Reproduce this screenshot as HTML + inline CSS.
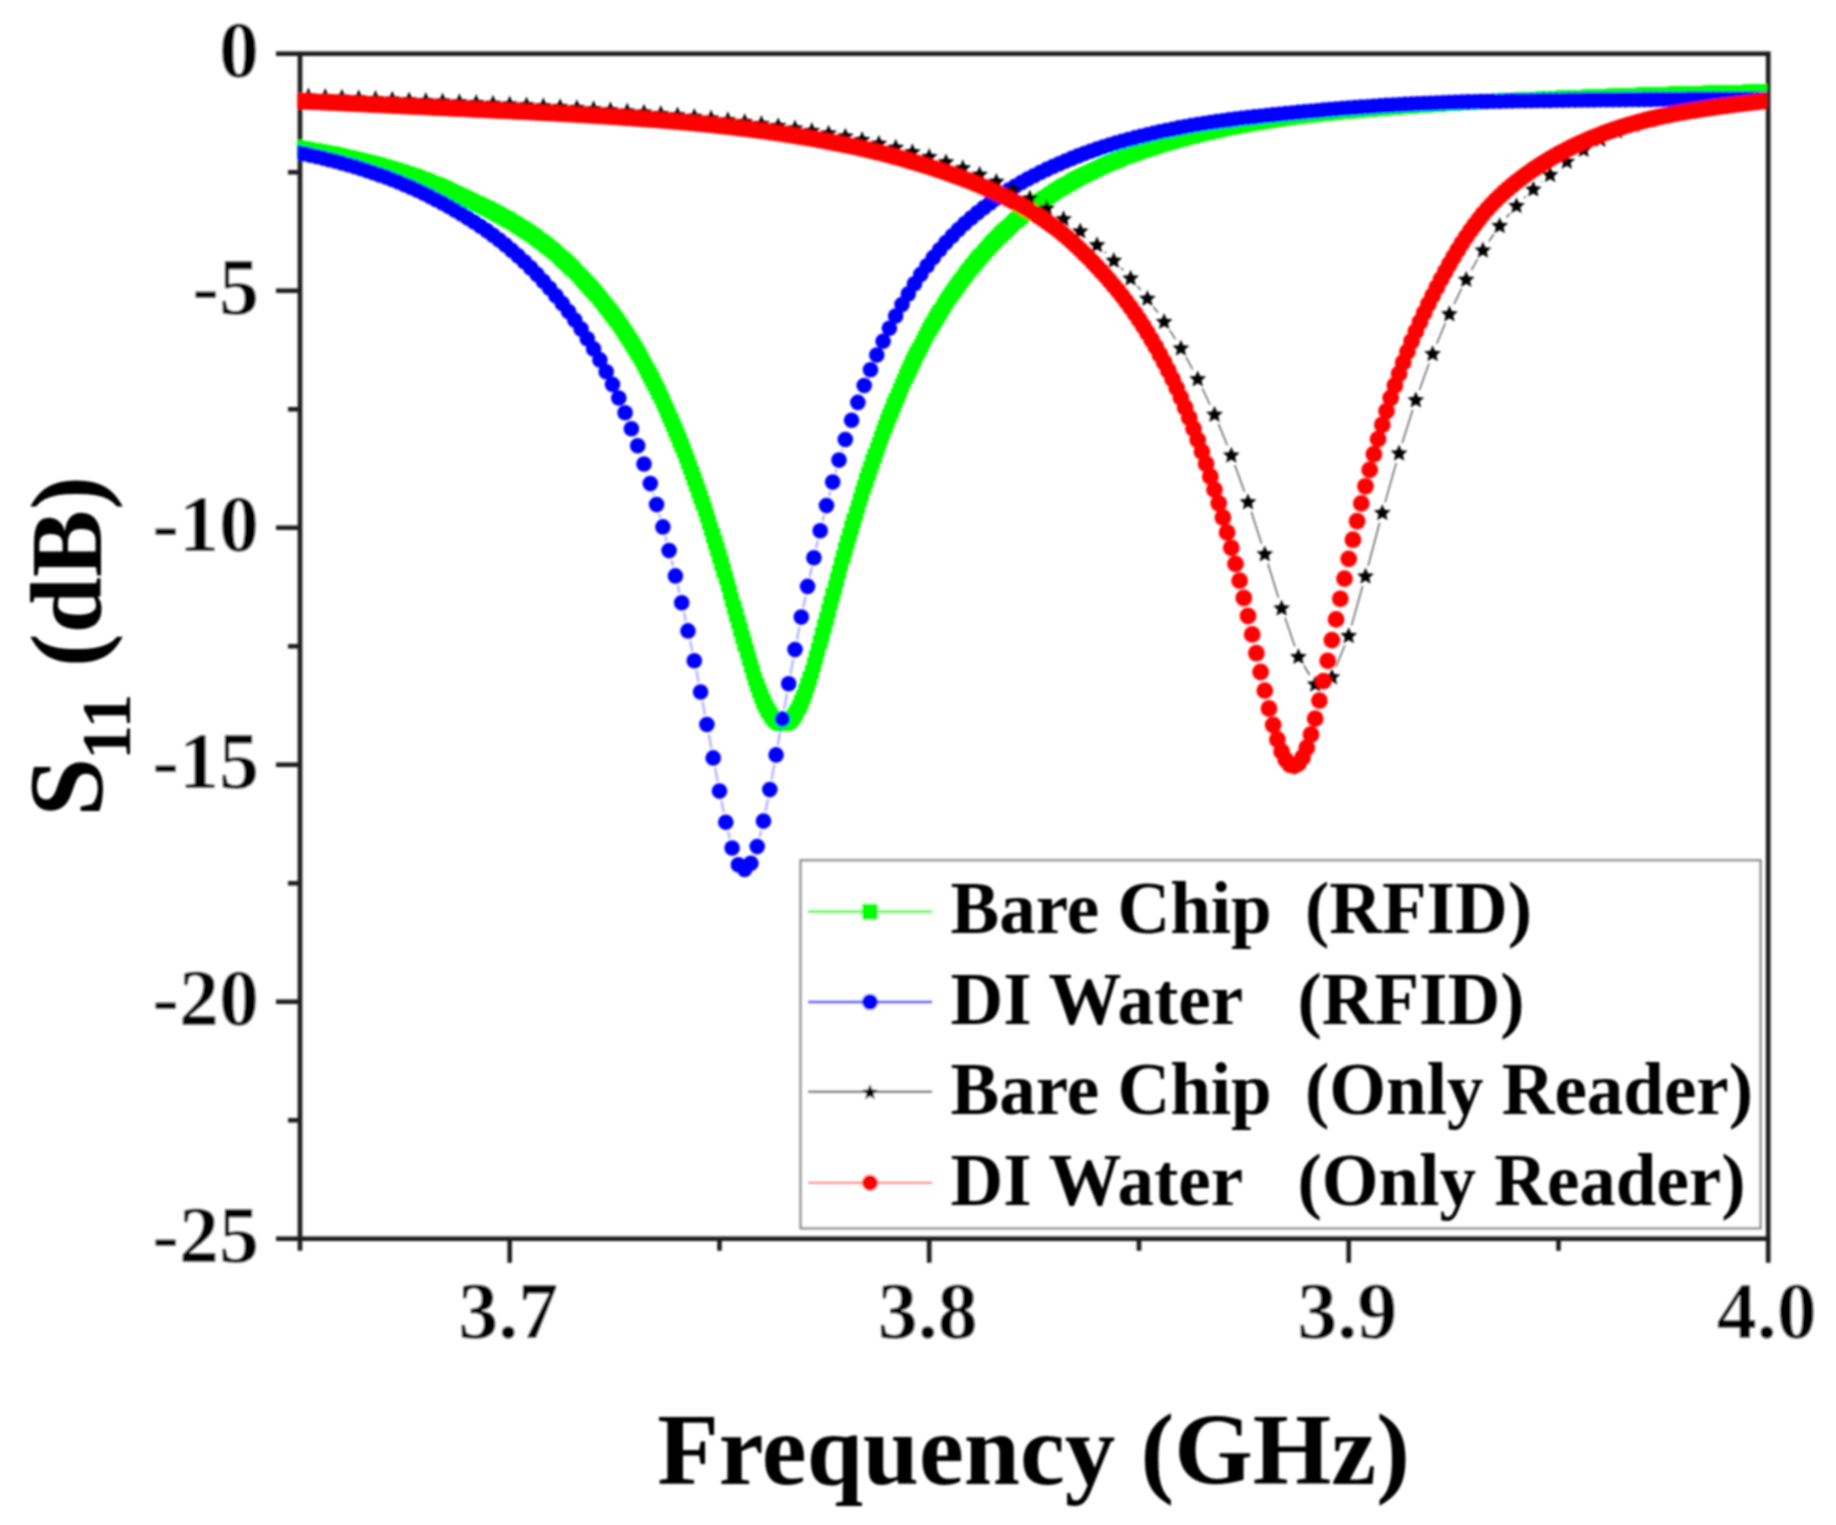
<!DOCTYPE html>
<html lang="en"><head><meta charset="utf-8"><title>S11 vs Frequency</title>
<style>
html,body{margin:0;padding:0;background:#fff;}
svg{display:block;}
text{font-family:"Liberation Serif", "Times New Roman", Times, serif;font-weight:bold;fill:#000;}
.tk{font-size:80px;stroke:#fff;stroke-width:0.5px;stroke-linejoin:round;}
.ttl{font-size:101px;}
  .lg{font-size:73px;white-space:pre;}
</style></head>
<body>
<svg width="1836" height="1525" viewBox="0 0 1836 1525">
<defs>
<clipPath id="pc"><rect x="297.7" y="52" width="1468.8" height="1189"/></clipPath>
<marker id="mg" markerUnits="userSpaceOnUse" markerWidth="14.6" markerHeight="14.6" refX="7.30" refY="7.30"><rect width="14.6" height="14.6" fill="#00ff00"/></marker>
<marker id="mb" markerUnits="userSpaceOnUse" markerWidth="17.6" markerHeight="17.6" refX="8.80" refY="8.80"><circle cx="8.80" cy="8.80" r="7.80" fill="#0000ff"/></marker>
<marker id="mr" markerUnits="userSpaceOnUse" markerWidth="18.8" markerHeight="18.8" refX="9.40" refY="9.40"><circle cx="9.40" cy="9.40" r="8.40" fill="#ff0000"/></marker>
<marker id="mk" markerUnits="userSpaceOnUse" markerWidth="24" markerHeight="24" refX="12" refY="12"><polygon transform="translate(12,12.6)" points="0.00,-8.90 2.35,-3.24 8.46,-2.75 3.81,1.24 5.23,7.20 0.00,4.00 -5.23,7.20 -3.81,1.24 -8.46,-2.75 -2.35,-3.24" fill="#000"/></marker>
<filter id="soft" x="-2%" y="-2%" width="104%" height="104%"><feGaussianBlur stdDeviation="1.0"/></filter>
</defs>
<rect width="1836" height="1525" fill="#fff"/>
<g filter="url(#soft)">
<g stroke="#1c1c1c" stroke-width="4.6" fill="none" stroke-linecap="butt">
<path d="M276.0 53.8H1770.3"/>
<path d="M276.0 1238.8H1770.3"/>
<path d="M300.0 51.7V1250.8"/>
<path d="M1768.2 51.7V1262.8"/>
<path d="M288.0 172.3H300.0M276.0 290.8H300.0M288.0 409.3H300.0M276.0 527.8H300.0M288.0 646.3H300.0M276.0 764.8H300.0M288.0 883.3H300.0M276.0 1001.8H300.0M288.0 1120.3H300.0"/>
<path d="M509.7 1238.8V1262.8M719.5 1238.8V1250.8M929.2 1238.8V1262.8M1139.0 1238.8V1250.8M1348.7 1238.8V1262.8M1558.5 1238.8V1250.8"/>
</g>
<g clip-path="url(#pc)" fill="none">
<polyline points="258.1,142.1 260.1,142.4 262.2,142.7 264.3,142.9 266.4,143.2 268.5,143.5 270.6,143.8 272.7,144.0 274.8,144.3 276.9,144.6 279.0,144.9 281.1,145.2 283.2,145.5 285.3,145.8 287.4,146.1 289.5,146.4 291.6,146.8 293.7,147.1 295.8,147.4 297.9,147.7 300.0,148.1 302.1,148.4 304.2,148.7 306.3,149.1 308.4,149.4 310.5,149.8 312.6,150.2 314.7,150.5 316.8,150.9 318.9,151.3 321.0,151.7 323.1,152.1 325.2,152.5 327.3,152.9 329.4,153.3 331.5,153.7 333.6,154.1 335.7,154.6 337.8,155.0 339.9,155.4 341.9,155.9 344.0,156.4 346.1,156.8 348.2,157.3 350.3,157.8 352.4,158.3 354.5,158.8 356.6,159.3 358.7,159.8 360.8,160.3 362.9,160.8 365.0,161.3 367.1,161.9 369.2,162.4 371.3,163.0 373.4,163.5 375.5,164.1 377.6,164.7 379.7,165.3 381.8,165.8 383.9,166.4 386.0,167.0 388.1,167.7 390.2,168.3 392.3,168.9 394.4,169.6 396.5,170.2 398.6,170.9 400.7,171.5 402.8,172.2 404.9,172.9 407.0,173.6 409.1,174.3 411.2,175.0 413.3,175.7 415.4,176.5 417.5,177.2 419.6,178.0 421.7,178.8 423.7,179.5 425.8,180.3 427.9,181.2 430.0,182.0 432.1,182.8 434.2,183.7 436.3,184.6 438.4,185.4 440.5,186.3 442.6,187.3 444.7,188.2 446.8,189.1 448.9,190.1 451.0,191.0 453.1,192.0 455.2,192.9 457.3,193.9 459.4,194.9 461.5,195.9 463.6,196.9 465.7,197.9 467.8,198.9 469.9,199.9 472.0,200.9 474.1,202.0 476.2,203.0 478.3,204.0 480.4,205.1 482.5,206.1 484.6,207.1 486.7,208.2 488.8,209.3 490.9,210.3 493.0,211.4 495.1,212.5 497.2,213.6 499.3,214.7 501.4,215.9 503.5,217.0 505.5,218.2 507.6,219.4 509.7,220.6 511.8,221.8 513.9,223.0 516.0,224.3 518.1,225.6 520.2,226.9 522.3,228.2 524.4,229.6 526.5,230.9 528.6,232.3 530.7,233.8 532.8,235.2 534.9,236.7 537.0,238.2 539.1,239.8 541.2,241.3 543.3,242.9 545.4,244.6 547.5,246.2 549.6,247.9 551.7,249.7 553.8,251.4 555.9,253.2 558.0,255.0 560.1,256.9 562.2,258.8 564.3,260.7 566.4,262.6 568.5,264.6 570.6,266.7 572.7,268.7 574.8,270.8 576.9,272.9 579.0,275.1 581.1,277.3 583.2,279.5 585.3,281.8 587.3,284.1 589.4,286.4 591.5,288.7 593.6,291.1 595.7,293.6 597.8,296.0 599.9,298.5 602.0,301.1 604.1,303.7 606.2,306.3 608.3,309.0 610.4,311.7 612.5,314.5 614.6,317.3 616.7,320.2 618.8,323.2 620.9,326.2 623.0,329.3 625.1,332.4 627.2,335.6 629.3,338.9 631.4,342.2 633.5,345.6 635.6,349.1 637.7,352.7 639.8,356.3 641.9,360.0 644.0,363.8 646.1,367.7 648.2,371.6 650.3,375.6 652.4,379.7 654.5,383.9 656.6,388.1 658.7,392.5 660.8,396.9 662.9,401.3 665.0,405.9 667.1,410.5 669.1,415.3 671.2,420.1 673.3,425.0 675.4,430.0 677.5,435.0 679.6,440.2 681.7,445.4 683.8,450.8 685.9,456.2 688.0,461.7 690.1,467.3 692.2,473.1 694.3,478.9 696.4,484.8 698.5,490.8 700.6,496.9 702.7,503.1 704.8,509.4 706.9,515.8 709.0,522.3 711.1,528.9 713.2,535.6 715.3,542.4 717.4,549.3 719.5,556.3 721.6,563.4 723.7,570.5 725.8,577.8 727.9,585.0 730.0,592.4 732.1,599.8 734.2,607.2 736.3,614.7 738.4,622.1 740.5,629.6 742.6,637.0 744.7,644.3 746.8,651.6 748.8,658.7 750.9,665.6 753.0,672.3 755.1,678.8 757.2,685.0 759.3,690.9 761.4,696.4 763.5,701.4 765.6,706.1 767.7,710.2 769.8,713.7 771.9,716.8 774.0,719.2 776.1,721.1 778.2,722.5 780.3,723.3 782.4,723.7 784.5,723.5 786.6,722.9 788.7,721.7 790.8,719.9 792.9,717.6 795.0,714.6 797.1,711.1 799.2,706.9 801.3,702.2 803.4,697.0 805.5,691.3 807.6,685.1 809.7,678.6 811.8,671.8 813.9,664.7 816.0,657.4 818.1,649.9 820.2,642.2 822.3,634.5 824.4,626.6 826.5,618.8 828.6,610.9 830.6,603.0 832.7,595.2 834.8,587.4 836.9,579.7 839.0,572.0 841.1,564.4 843.2,556.9 845.3,549.4 847.4,542.1 849.5,534.8 851.6,527.7 853.7,520.6 855.8,513.7 857.9,506.8 860.0,500.1 862.1,493.4 864.2,486.9 866.3,480.4 868.4,474.1 870.5,467.9 872.6,461.7 874.7,455.7 876.8,449.7 878.9,443.9 881.0,438.2 883.1,432.5 885.2,426.9 887.3,421.5 889.4,416.1 891.5,410.8 893.6,405.6 895.7,400.5 897.8,395.5 899.9,390.5 902.0,385.7 904.1,380.9 906.2,376.3 908.3,371.7 910.4,367.2 912.4,362.7 914.5,358.4 916.6,354.1 918.7,349.9 920.8,345.8 922.9,341.8 925.0,337.8 927.1,333.9 929.2,330.1 931.3,326.4 933.4,322.8 935.5,319.2 937.6,315.7 939.7,312.2 941.8,308.8 943.9,305.5 946.0,302.2 948.1,299.0 950.2,295.9 952.3,292.8 954.4,289.8 956.5,286.8 958.6,283.9 960.7,281.0 962.8,278.2 964.9,275.4 967.0,272.7 969.1,270.0 971.2,267.4 973.3,264.8 975.4,262.2 977.5,259.7 979.6,257.2 981.7,254.8 983.8,252.4 985.9,250.1 988.0,247.8 990.1,245.5 992.2,243.3 994.2,241.1 996.3,238.9 998.4,236.8 1000.5,234.7 1002.6,232.7 1004.7,230.7 1006.8,228.7 1008.9,226.8 1011.0,224.9 1013.1,223.0 1015.2,221.1 1017.3,219.3 1019.4,217.5 1021.5,215.8 1023.6,214.1 1025.7,212.4 1027.8,210.7 1029.9,209.1 1032.0,207.5 1034.1,205.9 1036.2,204.4 1038.3,202.8 1040.4,201.3 1042.5,199.9 1044.6,198.4 1046.7,197.0 1048.8,195.6 1050.9,194.2 1053.0,192.9 1055.1,191.5 1057.2,190.2 1059.3,188.9 1061.4,187.6 1063.5,186.4 1065.6,185.2 1067.7,184.0 1069.8,182.8 1071.9,181.6 1074.0,180.4 1076.0,179.3 1078.1,178.2 1080.2,177.1 1082.3,176.0 1084.4,174.9 1086.5,173.8 1088.6,172.8 1090.7,171.8 1092.8,170.8 1094.9,169.8 1097.0,168.8 1099.1,167.8 1101.2,166.9 1103.3,165.9 1105.4,165.0 1107.5,164.1 1109.6,163.2 1111.7,162.3 1113.8,161.4 1115.9,160.6 1118.0,159.7 1120.1,158.9 1122.2,158.0 1124.3,157.2 1126.4,156.4 1128.5,155.6 1130.6,154.8 1132.7,154.1 1134.8,153.3 1136.9,152.6 1139.0,151.8 1141.1,151.1 1143.2,150.4 1145.3,149.7 1147.4,149.0 1149.5,148.3 1151.6,147.6 1153.7,146.9 1155.8,146.3 1157.8,145.6 1159.9,145.0 1162.0,144.3 1164.1,143.7 1166.2,143.1 1168.3,142.5 1170.4,141.9 1172.5,141.3 1174.6,140.7 1176.7,140.1 1178.8,139.5 1180.9,139.0 1183.0,138.4 1185.1,137.9 1187.2,137.3 1189.3,136.8 1191.4,136.3 1193.5,135.7 1195.6,135.2 1197.7,134.7 1199.8,134.2 1201.9,133.7 1204.0,133.2 1206.1,132.7 1208.2,132.3 1210.3,131.8 1212.4,131.3 1214.5,130.8 1216.6,130.4 1218.7,129.9 1220.8,129.5 1222.9,129.1 1225.0,128.6 1227.1,128.2 1229.2,127.8 1231.3,127.3 1233.4,126.9 1235.5,126.5 1237.6,126.1 1239.6,125.7 1241.7,125.3 1243.8,124.9 1245.9,124.5 1248.0,124.2 1250.1,123.8 1252.2,123.4 1254.3,123.1 1256.4,122.7 1258.5,122.3 1260.6,122.0 1262.7,121.6 1264.8,121.3 1266.9,121.0 1269.0,120.6 1271.1,120.3 1273.2,120.0 1275.3,119.7 1277.4,119.4 1279.5,119.1 1281.6,118.8 1283.7,118.5 1285.8,118.2 1287.9,117.9 1290.0,117.6 1292.1,117.3 1294.2,117.1 1296.3,116.8 1298.4,116.5 1300.5,116.3 1302.6,116.0 1304.7,115.8 1306.8,115.5 1308.9,115.3 1311.0,115.0 1313.1,114.8 1315.2,114.6 1317.3,114.3 1319.4,114.1 1321.4,113.9 1323.5,113.7 1325.6,113.5 1327.7,113.3 1329.8,113.0 1331.9,112.8 1334.0,112.6 1336.1,112.4 1338.2,112.2 1340.3,112.0 1342.4,111.8 1344.5,111.7 1346.6,111.5 1348.7,111.3 1350.8,111.1 1352.9,110.9 1355.0,110.7 1357.1,110.6 1359.2,110.4 1361.3,110.2 1363.4,110.0 1365.5,109.9 1367.6,109.7 1369.7,109.5 1371.8,109.4 1373.9,109.2 1376.0,109.0 1378.1,108.8 1380.2,108.7 1382.3,108.5 1384.4,108.4 1386.5,108.2 1388.6,108.0 1390.7,107.9 1392.8,107.7 1394.9,107.6 1397.0,107.4 1399.1,107.2 1401.2,107.1 1403.2,106.9 1405.3,106.8 1407.4,106.6 1409.5,106.5 1411.6,106.3 1413.7,106.1 1415.8,106.0 1417.9,105.8 1420.0,105.7 1422.1,105.5 1424.2,105.4 1426.3,105.3 1428.4,105.1 1430.5,105.0 1432.6,104.8 1434.7,104.7 1436.8,104.5 1438.9,104.4 1441.0,104.3 1443.1,104.1 1445.2,104.0 1447.3,103.8 1449.4,103.7 1451.5,103.6 1453.6,103.4 1455.7,103.3 1457.8,103.2 1459.9,103.1 1462.0,102.9 1464.1,102.8 1466.2,102.7 1468.3,102.5 1470.4,102.4 1472.5,102.3 1474.6,102.2 1476.7,102.1 1478.8,101.9 1480.9,101.8 1482.9,101.7 1485.0,101.6 1487.1,101.5 1489.2,101.3 1491.3,101.2 1493.4,101.1 1495.5,101.0 1497.6,100.9 1499.7,100.8 1501.8,100.7 1503.9,100.5 1506.0,100.4 1508.1,100.3 1510.2,100.2 1512.3,100.1 1514.4,100.0 1516.5,99.9 1518.6,99.8 1520.7,99.7 1522.8,99.6 1524.9,99.5 1527.0,99.4 1529.1,99.3 1531.2,99.2 1533.3,99.1 1535.4,99.0 1537.5,98.9 1539.6,98.8 1541.7,98.7 1543.8,98.6 1545.9,98.5 1548.0,98.4 1550.1,98.3 1552.2,98.2 1554.3,98.1 1556.4,98.0 1558.5,97.9 1560.6,97.8 1562.7,97.7 1564.7,97.6 1566.8,97.6 1568.9,97.5 1571.0,97.4 1573.1,97.3 1575.2,97.2 1577.3,97.1 1579.4,97.0 1581.5,96.9 1583.6,96.9 1585.7,96.8 1587.8,96.7 1589.9,96.6 1592.0,96.5 1594.1,96.4 1596.2,96.4 1598.3,96.3 1600.4,96.2 1602.5,96.1 1604.6,96.0 1606.7,96.0 1608.8,95.9 1610.9,95.8 1613.0,95.7 1615.1,95.7 1617.2,95.6 1619.3,95.5 1621.4,95.4 1623.5,95.4 1625.6,95.3 1627.7,95.2 1629.8,95.1 1631.9,95.1 1634.0,95.0 1636.1,94.9 1638.2,94.8 1640.3,94.8 1642.4,94.7 1644.5,94.6 1646.5,94.6 1648.6,94.5 1650.7,94.4 1652.8,94.4 1654.9,94.3 1657.0,94.2 1659.1,94.2 1661.2,94.1 1663.3,94.0 1665.4,94.0 1667.5,93.9 1669.6,93.8 1671.7,93.8 1673.8,93.7 1675.9,93.7 1678.0,93.6 1680.1,93.5 1682.2,93.5 1684.3,93.4 1686.4,93.3 1688.5,93.3 1690.6,93.2 1692.7,93.2 1694.8,93.1 1696.9,93.1 1699.0,93.0 1701.1,92.9 1703.2,92.9 1705.3,92.8 1707.4,92.8 1709.5,92.7 1711.6,92.7 1713.7,92.6 1715.8,92.6 1717.9,92.5 1720.0,92.4 1722.1,92.4 1724.2,92.3 1726.3,92.3 1728.3,92.2 1730.4,92.2 1732.5,92.1 1734.6,92.1 1736.7,92.0 1738.8,92.0 1740.9,91.9 1743.0,91.9 1745.1,91.8 1747.2,91.8 1749.3,91.7 1751.4,91.7 1753.5,91.6 1755.6,91.6 1757.7,91.5 1759.8,91.5 1761.9,91.4 1764.0,91.4 1766.1,91.3 1768.2,91.3 1770.3,91.2 1772.4,91.2 1774.5,91.1 1776.6,91.1 1778.7,91.0 1780.8,90.9 1782.9,90.9 1785.0,90.8 1787.1,90.8 1789.2,90.7 1791.3,90.7 1793.4,90.6 1795.5,90.6 1797.6,90.5 1799.7,90.5 1801.8,90.4 1803.9,90.4 1806.0,90.3 1808.1,90.3" stroke="#00ff00" stroke-width="1.5" marker-start="url(#mg)" marker-mid="url(#mg)" marker-end="url(#mg)"/>
<path d="M653.1 493.0L653.7 495.2M659.2 514.0L660.2 517.5M665.4 536.4L666.6 541.2M671.5 560.2L673.1 566.4M677.7 585.4L679.5 593.1M683.9 612.2L685.9 621.4M690.0 640.5L692.3 651.1M696.3 670.3L698.7 682.4M702.5 701.6L705.0 714.9M708.7 734.1L711.4 748.2M715.0 767.5L717.7 781.5M721.4 800.7L723.8 812.6M728.1 831.7L729.8 838.5M759.6 837.0L761.2 830.6M765.5 811.4L767.9 799.2M771.6 779.9L774.4 764.5M777.8 745.2L780.7 728.8M784.1 709.5L787.0 693.4M790.5 674.1L793.2 659.2M796.9 640.0L799.4 626.7M803.3 607.5L805.6 596.0M809.7 576.9L811.8 567.2M816.1 548.1L817.9 540.3M822.5 521.2L824.1 515.1M829.0 496.1L830.2 491.5M835.4 472.6L836.3 469.5M841.9 450.7L842.5 448.9" stroke="#0000ff" stroke-opacity="0.28" stroke-width="2.6"/>
<polyline points="260.1,145.9 266.4,146.9 272.7,147.9 279.0,149.0 285.3,150.1 291.6,151.3 297.9,152.5 304.2,153.8 310.5,155.2 316.8,156.6 323.1,158.1 329.4,159.7 335.7,161.3 341.9,163.0 348.2,164.8 354.5,166.6 360.8,168.6 367.1,170.6 373.4,172.7 379.7,174.9 386.0,177.1 392.3,179.5 398.6,182.0 404.9,184.7 411.2,187.4 417.5,190.3 423.7,193.3 430.0,196.4 436.3,199.7 442.6,203.1 448.9,206.6 455.2,210.2 461.5,214.0 467.8,217.9 474.1,222.0 480.4,226.2 486.7,230.6 493.0,235.2 499.3,240.0 505.5,245.1 511.8,250.4 518.1,255.9 524.4,261.8 530.7,267.9 537.0,274.4 543.3,281.2 549.6,288.3 555.9,295.7 562.2,303.4 568.5,311.6 574.8,320.1 581.1,329.1 587.3,338.7 593.6,348.9 599.9,359.9 606.2,371.7 612.5,384.4 618.8,398.0 625.1,412.8 631.4,428.7 637.7,445.7 644.0,464.0 650.3,483.6 656.6,504.6 662.9,526.9 669.1,550.6 675.4,575.9 681.7,602.7 688.0,630.9 694.3,660.7 700.6,692.0 706.9,724.5 713.2,757.9 719.5,791.1 725.8,822.2 732.1,848.0 738.4,864.7 744.7,869.4 750.9,863.3 757.2,846.6 763.5,821.1 769.8,789.6 776.1,754.9 782.4,719.1 788.7,683.8 795.0,649.6 801.3,617.1 807.6,586.4 813.9,557.7 820.2,530.7 826.5,505.6 832.7,482.1 839.0,460.1 845.3,439.5 851.6,420.3 857.9,402.4 864.2,385.5 870.5,369.8 876.8,355.0 883.1,341.2 889.4,328.2 895.7,316.0 902.0,304.6 908.3,293.9 914.5,283.8 920.8,274.4 927.1,265.7 933.4,257.4 939.7,249.8 946.0,242.6 952.3,235.9 958.6,229.6 964.9,223.6 971.2,218.0 977.5,212.7 983.8,207.7 990.1,202.9 996.3,198.4 1002.6,194.1 1008.9,190.0 1015.2,186.2 1021.5,182.5 1027.8,179.0 1034.1,175.7 1040.4,172.5 1046.7,169.4 1053.0,166.5 1059.3,163.7 1065.6,161.0 1071.9,158.4 1078.1,155.9 1084.4,153.5 1090.7,151.3 1097.0,149.1 1103.3,147.0 1109.6,145.0 1115.9,143.1 1122.2,141.3 1128.5,139.5 1134.8,137.9 1141.1,136.3 1147.4,134.7 1153.7,133.3 1159.9,131.8 1166.2,130.5 1172.5,129.2 1178.8,127.9 1185.1,126.8 1191.4,125.6 1197.7,124.5 1204.0,123.5 1210.3,122.5 1216.6,121.6 1222.9,120.7 1229.2,119.9 1235.5,119.1 1241.7,118.3 1248.0,117.6 1254.3,116.9 1260.6,116.2 1266.9,115.5 1273.2,114.9 1279.5,114.2 1285.8,113.6 1292.1,113.0 1298.4,112.4 1304.7,111.8 1311.0,111.2 1317.3,110.7 1323.5,110.1 1329.8,109.6 1336.1,109.0 1342.4,108.5 1348.7,108.0 1355.0,107.6 1361.3,107.1 1367.6,106.7 1373.9,106.2 1380.2,105.8 1386.5,105.4 1392.8,105.1 1399.1,104.7 1405.3,104.4 1411.6,104.1 1417.9,103.8 1424.2,103.5 1430.5,103.2 1436.8,103.0 1443.1,102.8 1449.4,102.5 1455.7,102.3 1462.0,102.1 1468.3,101.9 1474.6,101.8 1480.9,101.6 1487.1,101.5 1493.4,101.3 1499.7,101.2 1506.0,101.0 1512.3,100.9 1518.6,100.8 1524.9,100.7 1531.2,100.6 1537.5,100.5 1543.8,100.4 1550.1,100.4 1556.4,100.3 1562.7,100.2 1568.9,100.1 1575.2,100.1 1581.5,100.0 1587.8,99.9 1594.1,99.9 1600.4,99.8 1606.7,99.8 1613.0,99.7 1619.3,99.7 1625.6,99.6 1631.9,99.5 1638.2,99.5 1644.5,99.4 1650.7,99.4 1657.0,99.3 1663.3,99.3 1669.6,99.2 1675.9,99.2 1682.2,99.2 1688.5,99.1 1694.8,99.1 1701.1,99.1 1707.4,99.1 1713.7,99.0 1720.0,99.0 1726.3,99.0 1732.5,99.0 1738.8,99.0 1745.1,99.0 1751.4,99.0 1757.7,99.0 1764.0,99.0 1770.3,99.0 1776.6,99.0 1782.9,99.0 1789.2,99.0 1795.5,99.0 1801.8,99.1 1808.1,99.1" stroke="none" marker-start="url(#mb)" marker-mid="url(#mb)" marker-end="url(#mb)"/>
<path d="M1104.7 251.8L1106.1 253.1M1121.0 267.9L1123.4 270.3M1137.3 286.0L1140.7 290.1M1153.5 306.7L1158.0 312.8M1169.7 330.2L1175.3 339.1M1186.0 357.2L1192.7 369.5M1202.2 388.2L1210.0 404.7M1218.5 423.9L1227.3 445.3M1234.8 464.9L1244.5 491.8M1251.3 511.7L1261.6 543.7M1267.9 563.7L1278.5 597.8M1285.0 617.8L1294.9 646.4M1303.8 665.3L1309.7 675.0M1335.9 667.0L1344.8 645.2M1351.6 625.4L1362.6 586.0M1368.2 565.8L1379.6 522.7M1385.1 502.4L1396.2 463.0M1402.2 442.9L1412.7 409.8M1419.4 389.9L1429.0 363.4M1436.7 343.8L1445.3 323.3M1454.0 304.2L1461.6 288.6M1471.4 270.1L1477.7 259.0M1488.9 241.3L1493.8 234.2M1506.5 217.5L1509.8 213.5M1524.0 198.1L1525.8 196.2M1541.3 181.9L1542.1 181.2" stroke="#000" stroke-opacity="0.62" stroke-width="1.5"/>
<polyline points="258.1,95.6 274.8,95.6 291.6,95.6 308.4,95.8 325.2,96.3 341.9,97.0 358.7,97.6 375.5,98.3 392.3,99.0 409.1,99.7 425.8,100.3 442.6,100.9 459.4,101.6 476.2,102.3 493.0,103.1 509.7,103.9 526.5,104.7 543.3,105.6 560.1,106.5 576.9,107.5 593.6,108.6 610.4,109.6 627.2,110.8 644.0,112.0 660.8,113.3 677.5,114.7 694.3,116.2 711.1,117.8 727.9,119.6 744.7,121.4 761.4,123.4 778.2,125.5 795.0,127.8 811.8,130.3 828.6,133.0 845.3,136.0 862.1,139.4 878.9,143.1 895.7,147.1 912.4,151.6 929.2,156.4 946.0,161.7 962.8,167.6 979.6,174.1 996.3,181.2 1013.1,189.1 1029.9,197.9 1046.7,207.7 1063.5,218.6 1080.2,230.8 1097.0,244.6 1113.8,260.2 1130.6,278.0 1147.4,298.2 1164.1,321.3 1180.9,348.0 1197.7,378.7 1214.5,414.1 1231.3,455.0 1248.0,501.7 1264.8,553.7 1281.6,607.9 1298.4,656.3 1315.2,684.0 1331.9,676.7 1348.7,635.5 1365.5,575.9 1382.3,512.5 1399.1,452.9 1415.8,399.7 1432.6,353.5 1449.4,313.6 1466.2,279.2 1482.9,249.9 1499.7,225.5 1516.5,205.5 1533.3,188.8 1550.1,174.4 1566.8,161.2 1583.6,149.3 1600.4,139.2 1617.2,131.0 1634.0,124.6 1650.7,119.5 1667.5,115.1 1684.3,111.1 1701.1,107.7 1717.9,105.0 1734.6,102.6 1751.4,100.5 1768.2,98.8 1785.0,97.5 1801.8,96.6" stroke="none" marker-start="url(#mk)" marker-mid="url(#mk)" marker-end="url(#mk)"/>
<path d="" stroke="#ff0000" stroke-opacity="0.25" stroke-width="2.4"/>
<polyline points="258.1,99.6 262.2,99.7 266.4,99.9 270.6,100.0 274.8,100.2 279.0,100.3 283.2,100.5 287.4,100.6 291.6,100.8 295.8,101.0 300.0,101.1 304.2,101.3 308.4,101.5 312.6,101.7 316.8,101.9 321.0,102.1 325.2,102.3 329.4,102.5 333.6,102.7 337.8,102.9 341.9,103.1 346.1,103.3 350.3,103.5 354.5,103.7 358.7,103.9 362.9,104.1 367.1,104.3 371.3,104.5 375.5,104.7 379.7,104.9 383.9,105.1 388.1,105.3 392.3,105.5 396.5,105.7 400.7,105.9 404.9,106.1 409.1,106.3 413.3,106.5 417.5,106.7 421.7,106.9 425.8,107.1 430.0,107.3 434.2,107.5 438.4,107.7 442.6,107.9 446.8,108.1 451.0,108.3 455.2,108.5 459.4,108.7 463.6,108.9 467.8,109.1 472.0,109.3 476.2,109.5 480.4,109.7 484.6,109.9 488.8,110.1 493.0,110.3 497.2,110.5 501.4,110.7 505.5,110.9 509.7,111.1 513.9,111.3 518.1,111.5 522.3,111.7 526.5,111.9 530.7,112.1 534.9,112.3 539.1,112.6 543.3,112.8 547.5,113.0 551.7,113.2 555.9,113.4 560.1,113.7 564.3,113.9 568.5,114.1 572.7,114.4 576.9,114.6 581.1,114.8 585.3,115.1 589.4,115.3 593.6,115.6 597.8,115.8 602.0,116.1 606.2,116.4 610.4,116.6 614.6,116.9 618.8,117.2 623.0,117.5 627.2,117.8 631.4,118.1 635.6,118.4 639.8,118.7 644.0,119.0 648.2,119.3 652.4,119.6 656.6,119.9 660.8,120.3 665.0,120.6 669.1,121.0 673.3,121.3 677.5,121.7 681.7,122.1 685.9,122.4 690.1,122.8 694.3,123.2 698.5,123.6 702.7,124.0 706.9,124.4 711.1,124.9 715.3,125.3 719.5,125.8 723.7,126.2 727.9,126.7 732.1,127.2 736.3,127.7 740.5,128.2 744.7,128.7 748.8,129.2 753.0,129.7 757.2,130.3 761.4,130.8 765.6,131.4 769.8,132.0 774.0,132.6 778.2,133.2 782.4,133.8 786.6,134.5 790.8,135.1 795.0,135.8 799.2,136.5 803.4,137.2 807.6,137.9 811.8,138.6 816.0,139.3 820.2,140.1 824.4,140.9 828.6,141.7 832.7,142.5 836.9,143.3 841.1,144.1 845.3,145.0 849.5,145.8 853.7,146.7 857.9,147.6 862.1,148.6 866.3,149.5 870.5,150.5 874.7,151.5 878.9,152.6 883.1,153.6 887.3,154.7 891.5,155.8 895.7,157.0 899.9,158.1 904.1,159.3 908.3,160.5 912.4,161.8 916.6,163.0 920.8,164.3 925.0,165.6 929.2,166.9 933.4,168.3 937.6,169.7 941.8,171.1 946.0,172.5 950.2,174.0 954.4,175.5 958.6,177.0 962.8,178.6 967.0,180.2 971.2,181.9 975.4,183.6 979.6,185.3 983.8,187.1 988.0,189.0 992.2,190.9 996.3,192.8 1000.5,194.8 1004.7,196.9 1008.9,199.0 1013.1,201.2 1017.3,203.5 1021.5,205.8 1025.7,208.2 1029.9,210.7 1034.1,213.3 1038.3,216.0 1042.5,218.8 1046.7,221.7 1050.9,224.7 1055.1,227.8 1059.3,231.1 1063.5,234.5 1067.7,238.1 1071.9,241.8 1076.0,245.6 1080.2,249.6 1084.4,253.7 1088.6,257.9 1092.8,262.2 1097.0,266.7 1101.2,271.2 1105.4,275.9 1109.6,280.7 1113.8,285.7 1118.0,290.8 1122.2,296.1 1126.4,301.6 1130.6,307.4 1134.8,313.3 1139.0,319.5 1143.2,326.0 1147.4,332.7 1151.6,339.7 1155.8,346.9 1159.9,354.5 1164.1,362.3 1168.3,370.5 1172.5,379.1 1176.7,388.1 1180.9,397.6 1185.1,407.5 1189.3,417.8 1193.5,428.6 1197.7,439.9 1201.9,451.6 1206.1,463.8 1210.3,476.5 1214.5,489.6 1218.7,503.3 1222.9,517.5 1227.1,532.4 1231.3,547.8 1235.5,563.9 1239.6,580.6 1243.8,598.0 1248.0,616.0 1252.2,634.4 1256.4,653.2 1260.6,672.0 1264.8,690.6 1269.0,708.5 1273.2,725.0 1277.4,739.5 1281.6,751.4 1285.8,759.9 1290.0,764.8 1294.2,765.9 1298.4,763.6 1302.6,757.5 1306.8,747.7 1311.0,734.5 1315.2,718.6 1319.4,700.6 1323.5,681.1 1327.7,660.8 1331.9,640.1 1336.1,619.4 1340.3,598.8 1344.5,578.6 1348.7,558.9 1352.9,539.7 1357.1,521.2 1361.3,503.4 1365.5,486.3 1369.7,469.9 1373.9,454.2 1378.1,439.1 1382.3,424.8 1386.5,411.1 1390.7,398.0 1394.9,385.5 1399.1,373.7 1403.2,362.4 1407.4,351.6 1411.6,341.3 1415.8,331.4 1420.0,322.0 1424.2,312.9 1428.4,304.1 1432.6,295.6 1436.8,287.4 1441.0,279.4 1445.2,271.7 1449.4,264.2 1453.6,257.0 1457.8,250.0 1462.0,243.3 1466.2,236.9 1470.4,230.8 1474.6,225.0 1478.8,219.5 1482.9,214.3 1487.1,209.4 1491.3,204.9 1495.5,200.5 1499.7,196.4 1503.9,192.5 1508.1,188.8 1512.3,185.2 1516.5,181.8 1520.7,178.6 1524.9,175.4 1529.1,172.4 1533.3,169.5 1537.5,166.7 1541.7,164.0 1545.9,161.4 1550.1,158.8 1554.3,156.4 1558.5,154.0 1562.7,151.8 1566.8,149.6 1571.0,147.5 1575.2,145.4 1579.4,143.5 1583.6,141.6 1587.8,139.7 1592.0,138.0 1596.2,136.3 1600.4,134.6 1604.6,133.0 1608.8,131.5 1613.0,130.0 1617.2,128.6 1621.4,127.2 1625.6,125.9 1629.8,124.6 1634.0,123.4 1638.2,122.2 1642.4,121.1 1646.5,120.0 1650.7,119.0 1654.9,118.0 1659.1,117.0 1663.3,116.1 1667.5,115.3 1671.7,114.4 1675.9,113.6 1680.1,112.9 1684.3,112.1 1688.5,111.4 1692.7,110.7 1696.9,110.1 1701.1,109.4 1705.3,108.8 1709.5,108.1 1713.7,107.5 1717.9,106.9 1722.1,106.3 1726.3,105.8 1730.4,105.2 1734.6,104.6 1738.8,104.1 1743.0,103.6 1747.2,103.1 1751.4,102.6 1755.6,102.1 1759.8,101.6 1764.0,101.1 1768.2,100.6 1772.4,100.2 1776.6,99.7 1780.8,99.3 1785.0,98.8 1789.2,98.4 1793.4,98.0 1797.6,97.6 1801.8,97.2 1806.0,96.8" stroke="none" marker-start="url(#mr)" marker-mid="url(#mr)" marker-end="url(#mr)"/>
</g>
<rect x="800.6" y="860.3" width="959.9" height="368.0" fill="#fff" stroke="#8e8e8e" stroke-width="2.4"/>
<path d="M808 911.7H932.2" stroke="#00ff00" stroke-width="2.6"/><rect x="862.0" y="903.7" width="16" height="16" fill="#00ff00"/>
<path d="M808 1002.0H932.2" stroke="#2a2aff" stroke-width="2.5"/><circle cx="870" cy="1002.0" r="8" fill="#0000ff"/>
<path d="M808 1091.7H932.2" stroke="#4a4a4a" stroke-width="2"/><polygon transform="translate(870,1092.5)" points="0.00,-8.20 2.17,-2.99 7.80,-2.53 3.51,1.14 4.82,6.63 0.00,3.69 -4.82,6.63 -3.51,1.14 -7.80,-2.53 -2.17,-2.99" fill="#000"/>
<path d="M808 1182.8H932.2" stroke="#ff7a7a" stroke-width="2.3"/><circle cx="870" cy="1182.8" r="8" fill="#ff0000"/>
</g>
<g filter="url(#soft)">
<text class="lg" x="950.5" y="933.3">Bare Chip  <tspan x="1305.0">(RFID)</tspan></text>
<text class="lg" x="950.5" y="1023.6">DI Water   <tspan x="1297.5">(RFID)</tspan></text>
<text class="lg" x="950.5" y="1113.9">Bare Chip  <tspan x="1305.0">(Only Reader)</tspan></text>
<text class="lg" x="950.5" y="1204.7">DI Water   <tspan x="1297.5">(Only Reader)</tspan></text>
<text class="tk" text-anchor="end" x="259" y="77.3">0</text>
<text class="tk" text-anchor="end" x="259" y="314.3">-5</text>
<text class="tk" text-anchor="end" x="259" y="551.3">-10</text>
<text class="tk" text-anchor="end" x="259" y="788.3">-15</text>
<text class="tk" text-anchor="end" x="259" y="1025.3">-20</text>
<text class="tk" text-anchor="end" x="259" y="1262.3">-25</text>
<text class="tk" text-anchor="middle" x="508.3" y="1338.4">3.7</text>
<text class="tk" text-anchor="middle" x="927.8" y="1338.4">3.8</text>
<text class="tk" text-anchor="middle" x="1347.3" y="1338.4">3.9</text>
<text class="tk" text-anchor="middle" x="1766.8" y="1338.4">4.0</text>
<text class="ttl" text-anchor="middle" x="1033.5" y="1483.7">Frequency (GHz)</text>
<text transform="translate(102.0,816.8) rotate(-90)" font-size="106.0">S</text>
<text transform="translate(130.0,760.0) rotate(-90)" font-size="70.5">11</text>
<text transform="translate(100.5,667.0) rotate(-90)" font-size="101.0">(dB)</text>
</g>
</svg>
</body></html>
